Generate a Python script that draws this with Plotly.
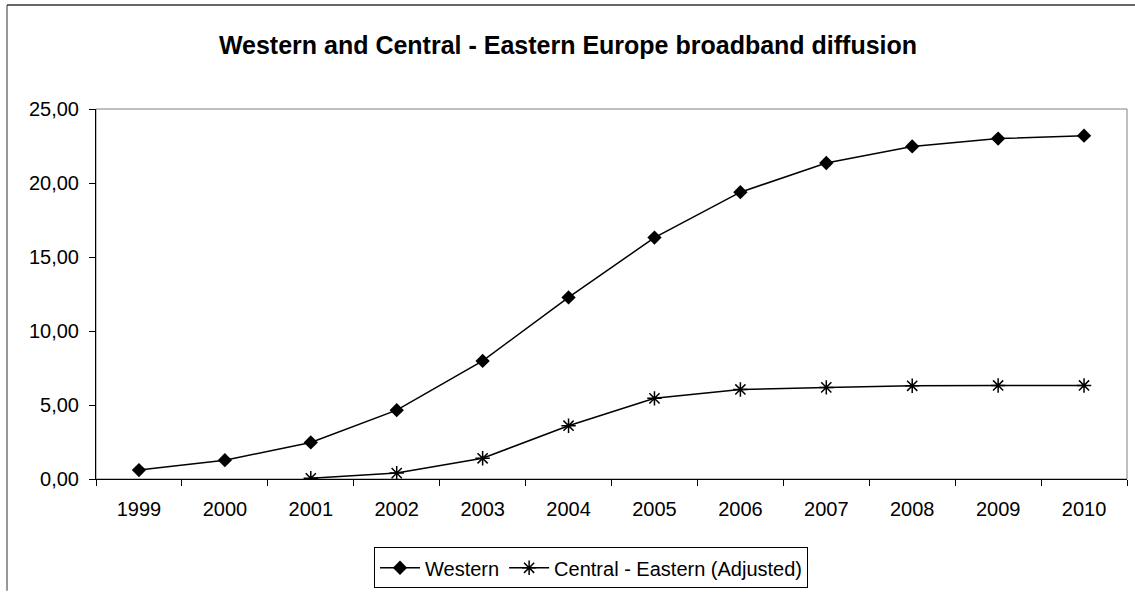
import plotly.graph_objects as go

# Broadband penetration by year
years = ["1999", "2000", "2001", "2002", "2003", "2004", "2005",
         "2006", "2007", "2008", "2009", "2010"]
western = [0.60, 1.27, 2.47, 4.65, 7.98, 12.27, 16.31, 19.38, 21.35, 22.47, 23.00, 23.20]
central_eastern = [None, None, 0.05, 0.40, 1.40, 3.60, 5.45, 6.05, 6.19, 6.30, 6.32, 6.32]
y_ticks = [0, 5, 10, 15, 20, 25]
y_tick_text = ["0,00", "5,00", "10,00", "15,00", "20,00", "25,00"]

W, H = 1135, 596
L, R, T, B = 96, 8, 109, 113
pw, ph = W - L - R, H - T - B

def px_x(x):
    return (x - L) / pw

def px_y(y):
    return (H - B - y) / ph

fig = go.Figure()
fig.add_trace(go.Scatter(
    x=years, y=western, name="Western", mode="lines+markers",
    line=dict(color="black", width=1.5),
    marker=dict(symbol="diamond", size=11, color="black"),
))
fig.add_trace(go.Scatter(
    x=years, y=central_eastern, name="Central - Eastern (Adjusted)",
    mode="lines+markers",
    line=dict(color="black", width=1.5),
    marker=dict(symbol="asterisk-open", size=12, color="black",
                line=dict(color="black", width=1.5)),
))

font = "Liberation Sans, Arial, sans-serif"

fig.update_layout(
    width=W, height=H,
    margin=dict(l=L, r=R, t=T, b=B),
    paper_bgcolor="white", plot_bgcolor="white",
    font=dict(family=font, size=20, color="black"),
    title=dict(text="<b>Western and Central - Eastern Europe broadband diffusion</b>",
               x=568 / W, xanchor="center",
               y=1 - 45 / H, yanchor="middle",
               font=dict(family=font, size=25, color="black")),
    showlegend=True,
    legend=dict(orientation="h", x=px_x(374), xanchor="left",
                y=px_y(552), yanchor="top",
                bordercolor="black", borderwidth=1,
                font=dict(family=font, size=20, color="black"),
                itemwidth=40, tracegroupgap=0),
    xaxis=dict(type="category", range=[-0.5, len(years) - 0.5],
               tickson="boundaries", ticks="outside",
               ticklen=6, tickcolor="black", showline=True, linecolor="black",
               linewidth=1, showgrid=False, zeroline=False,
               ticklabelstandoff=12),
    yaxis=dict(range=[0, 25], tickvals=y_ticks, ticktext=y_tick_text,
               ticks="outside", ticklen=6, tickcolor="black",
               showline=True, linecolor="black", linewidth=1,
               showgrid=False, zeroline=False, ticklabelstandoff=6),
    shapes=[
        # plot area frame (top and right edges are grey)
        dict(type="rect", xref="paper", yref="paper", x0=0, x1=1, y0=0, y1=1,
             line=dict(color="#808080", width=1), layer="below"),
        # chart outer border, left and top edges
        dict(type="line", xref="paper", yref="paper",
             x0=px_x(7), x1=px_x(7), y0=px_y(596), y1=px_y(4),
             line=dict(color="#333333", width=1)),
        dict(type="line", xref="paper", yref="paper",
             x0=px_x(7), x1=px_x(1135), y0=px_y(4), y1=px_y(4),
             line=dict(color="#333333", width=1.5)),
    ],
)

fig.write_html("out.html")
